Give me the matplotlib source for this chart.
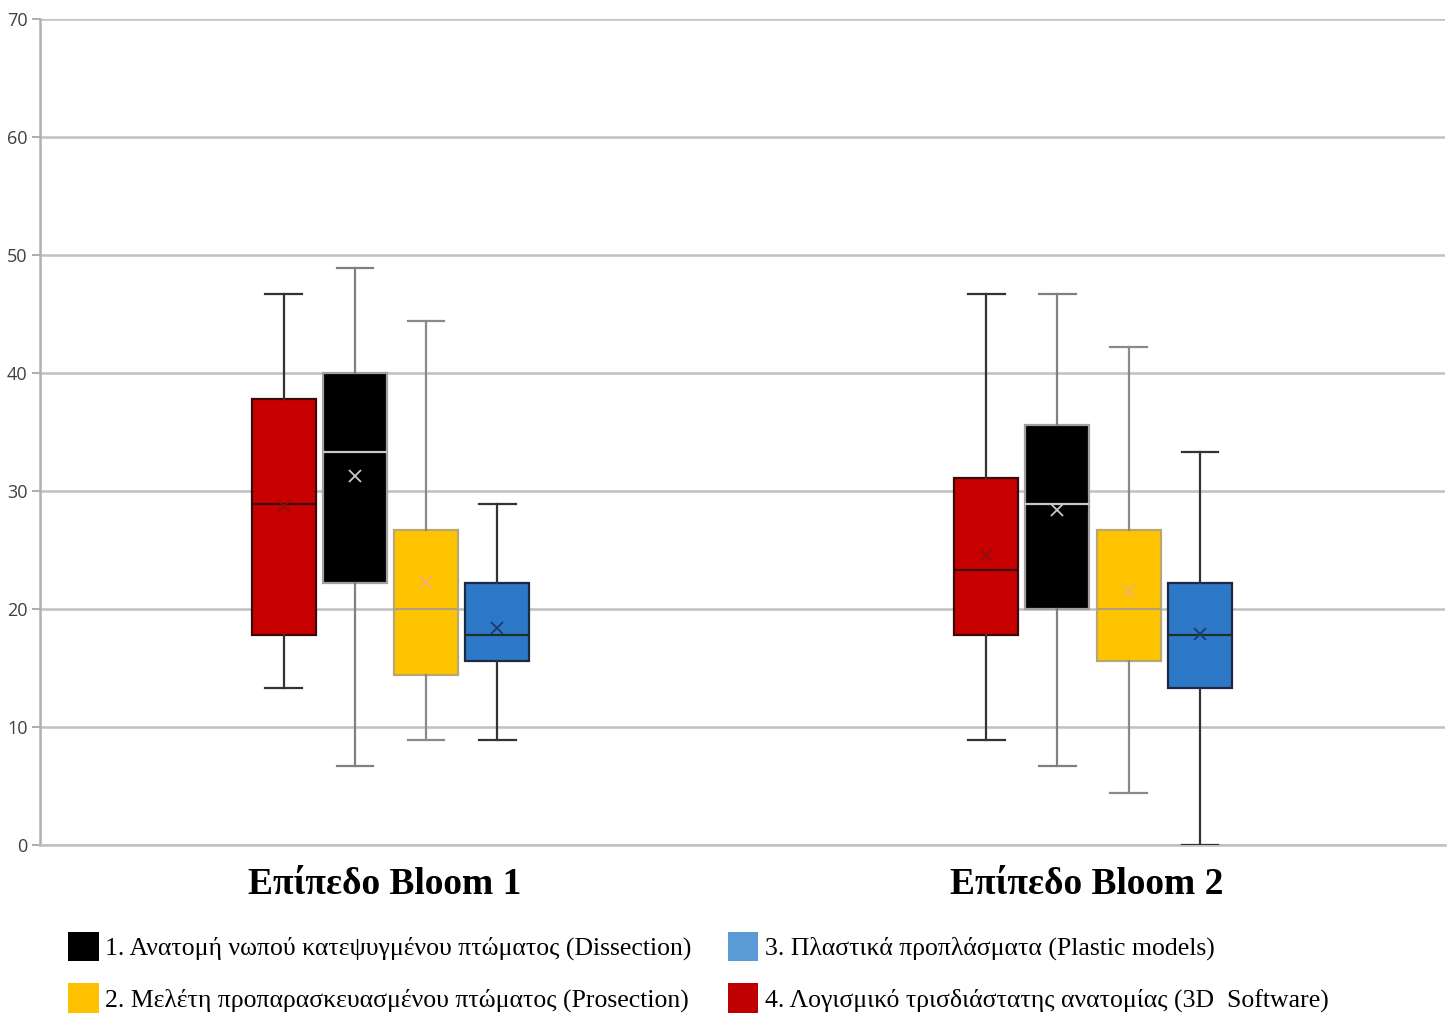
import matplotlib.pyplot as plt
from matplotlib.patches import Patch

# Bloom levels on the x axis
levels = ["Επίπεδο Bloom 1", "Επίπεδο Bloom 2"]

# box summaries per teaching method: [level 1, level 2]
software_whislo = [13.3, 8.9]
software_q1 = [17.8, 17.8]
software_med = [28.9, 23.3]
software_mean = [28.7, 24.6]
software_q3 = [37.8, 31.1]
software_whishi = [46.7, 46.7]

dissection_whislo = [6.7, 6.7]
dissection_q1 = [22.2, 20.0]
dissection_med = [33.3, 28.9]
dissection_mean = [31.3, 28.4]
dissection_q3 = [40.0, 35.6]
dissection_whishi = [48.9, 46.7]

prosection_whislo = [8.9, 4.4]
prosection_q1 = [14.4, 15.6]
prosection_med = [20.0, 20.0]
prosection_mean = [22.3, 21.5]
prosection_q3 = [26.7, 26.7]
prosection_whishi = [44.4, 42.2]

models_whislo = [8.9, 0.0]
models_q1 = [15.6, 13.3]
models_med = [17.8, 17.8]
models_mean = [18.4, 17.9]
models_q3 = [22.2, 22.2]
models_whishi = [28.9, 33.3]

legend_labels = [
    "1. Ανατομή νωπού κατεψυγμένου πτώματος (Dissection)",
    "2. Μελέτη προπαρασκευασμένου πτώματος (Prosection)",
    "3. Πλαστικά προπλάσματα (Plastic models)",
    "4. Λογισμικό τρισδιάστατης ανατομίας (3D  Software)",
]
legend_colors = ["#000000", "#FFC000", "#5B9BD5", "#C00000"]


def make_stats(lo, q1, med, mean, q3, hi):
    return [dict(whislo=lo[i], q1=q1[i], med=med[i], mean=mean[i],
                 q3=q3[i], whishi=hi[i], fliers=[]) for i in range(len(lo))]


# (stats, offset, face, edge, median, whisker, mean marker colour)
series = [
    (make_stats(software_whislo, software_q1, software_med, software_mean,
                software_q3, software_whishi),
     -0.152, "#C80000", "#3a0a0a", "#3a0a0a", "#333333", "#8a1010"),
    (make_stats(dissection_whislo, dissection_q1, dissection_med, dissection_mean,
                dissection_q3, dissection_whishi),
     -0.0507, "#000000", "#a0a0a0", "#c8c8c8", "#808080", "#c8c8c8"),
    (make_stats(prosection_whislo, prosection_q1, prosection_med, prosection_mean,
                prosection_q3, prosection_whishi),
     0.0507, "#FFC400", "#b8a870", "#b0a080", "#8a8a8a", "#f0b070"),
    (make_stats(models_whislo, models_q1, models_med, models_mean,
                models_q3, models_whishi),
     0.152, "#2E78C8", "#1c2a44", "#1a3328", "#333333", "#1c3a70"),
]

centers = [0.499, 1.499]

fig = plt.figure(figsize=(14.54, 10.14), dpi=100)
ax = fig.add_axes([0.0275, 0.1667, 0.9663, 0.8146])

for stats, off, face, edge, medc, whc, meanc in series:
    ax.bxp(stats, positions=[c + off for c in centers], widths=0.091,
           capwidths=0.052, patch_artist=True, showmeans=True,
           showfliers=False, manage_ticks=False, zorder=3,
           boxprops=dict(facecolor=face, edgecolor=edge, linewidth=1.6),
           medianprops=dict(color=medc, linewidth=1.6),
           whiskerprops=dict(color=whc, linewidth=1.6),
           capprops=dict(color=whc, linewidth=1.6),
           meanprops=dict(marker="x", markeredgecolor=meanc,
                          markersize=8, markeredgewidth=1.3))

ax.set_xlim(0, 2)
ax.set_ylim(0, 70)
ax.set_yticks(range(0, 71, 10))
ax.yaxis.grid(True, color="#c0c0c0", linewidth=1.8, zorder=0)
ax.set_axisbelow(True)
for side in ["top", "right"]:
    ax.spines[side].set_visible(False)
ax.spines["left"].set_color("#b0b0b0")
ax.spines["left"].set_linewidth(1.8)
ax.spines["bottom"].set_color("#c0c0c0")
ax.spines["bottom"].set_linewidth(1.8)
ax.tick_params(axis="y", length=6, width=1.2, color="#a0a0a0", pad=3,
               labelsize=13, labelcolor="#404040")
for t in ax.get_yticklabels():
    t.set_family("Open Sans")

ax.set_xticks([0.49, 1.49])
ax.set_xticklabels(levels, family="Liberation Serif", fontweight="bold",
                   fontsize=27)
ax.tick_params(axis="x", length=0, pad=16)

handles = [Patch(facecolor=c, edgecolor="none") for c in legend_colors]
fig.legend(handles, legend_labels, ncol=2, loc="lower left",
           bbox_to_anchor=(0.04, -0.009), frameon=False,
           prop=dict(family="Liberation Serif", size=18.5),
           handlelength=1.17, handleheight=1.4, handletextpad=0.27,
           columnspacing=1.4, labelspacing=0.85, borderaxespad=0)

fig.savefig("out.png", dpi=100)
